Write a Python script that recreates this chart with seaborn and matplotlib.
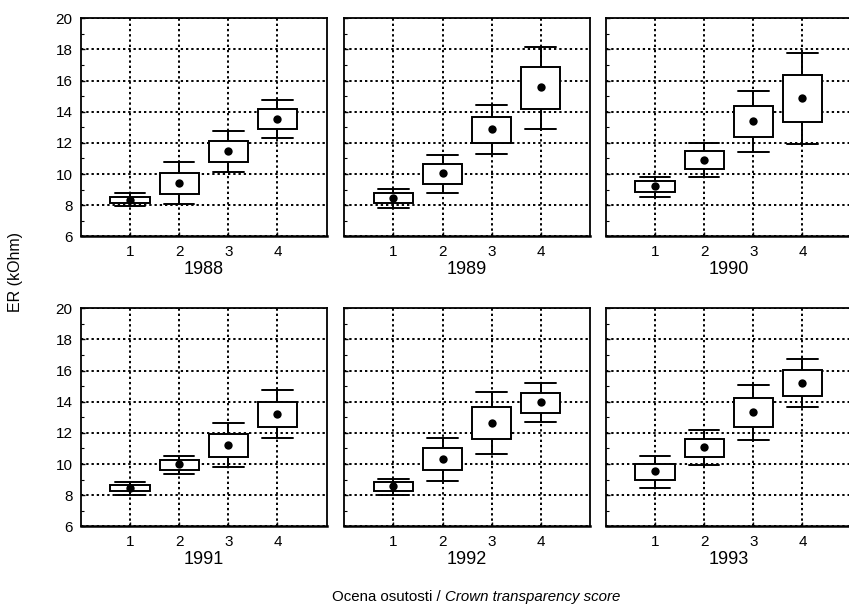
import numpy as np
import pandas as pd
import matplotlib
matplotlib.use("Agg")
import matplotlib.pyplot as plt
import seaborn as sns
from matplotlib.ticker import MultipleLocator

sns.set_theme(style="white")
plt.rcParams['font.family'] = ['Liberation Sans', 'DejaVu Sans']

years = ['1988', '1989', '1990', '1991', '1992', '1993']
scores = ['1', '2', '3', '4']

mean = [
    [8.36, 9.45, 11.49, 13.55],
    [8.49, 10.07, 12.90, 15.58],
    [9.24, 10.93, 13.40, 14.88],
    [8.46, 10.00, 11.24, 13.23],
    [8.57, 10.32, 12.65, 13.97],
    [9.53, 11.07, 13.31, 15.21],
]
box_lo = [
    [8.12, 8.72, 10.76, 12.92],
    [8.16, 9.39, 12.00, 14.17],
    [8.85, 10.35, 12.39, 13.35],
    [8.25, 9.61, 10.45, 12.39],
    [8.27, 9.61, 11.60, 13.29],
    [8.97, 10.45, 12.39, 14.40],
]
box_hi = [
    [8.55, 10.09, 12.11, 14.17],
    [8.77, 10.65, 13.67, 16.89],
    [9.54, 11.47, 14.36, 16.33],
    [8.65, 10.23, 11.94, 13.97],
    [8.84, 11.02, 13.65, 14.59],
    [10.02, 11.60, 14.21, 16.01],
]
whisker_lo = [
    [7.95, 8.08, 10.12, 12.32],
    [7.84, 8.79, 11.27, 12.88],
    [8.53, 9.84, 11.42, 11.92],
    [8.03, 9.36, 9.78, 11.64],
    [7.99, 8.93, 10.66, 12.67],
    [8.48, 9.93, 11.52, 13.65],
]
whisker_hi = [
    [8.79, 10.74, 12.77, 14.77],
    [9.02, 11.25, 14.43, 18.18],
    [9.82, 11.96, 15.35, 17.77],
    [8.84, 10.51, 12.65, 14.74],
    [9.06, 11.69, 14.64, 15.23],
    [10.49, 12.16, 15.06, 16.75],
]

# five box statistics per group -> seaborn boxplot (whis=inf) reproduces them exactly
rows = []
mrows = []
for yi, yr in enumerate(years):
    for si, sc in enumerate(scores):
        for v in (whisker_lo[yi][si], box_lo[yi][si], mean[yi][si],
                  box_hi[yi][si], whisker_hi[yi][si]):
            rows.append((yr, sc, v))
        mrows.append((yr, sc, mean[yi][si]))
df = pd.DataFrame(rows, columns=['year', 'score', 'ER'])
mdf = pd.DataFrame(mrows, columns=['year', 'score', 'ER'])

W, H = 849, 616
fig = plt.figure(figsize=(W / 100, H / 100), dpi=100)
lefts = [81, 344.3, 606]
tops = [18.3, 308.3]
aw, ah = 245.5, 218

for i, yr in enumerate(years):
    r, c = divmod(i, 3)
    ax = fig.add_axes([lefts[c] / W, 1 - (tops[r] + ah) / H, aw / W, ah / H])
    sub = df[df.year == yr]
    sns.boxplot(data=sub, x='score', y='ER', order=scores, whis=np.inf,
                width=0.8, color='white', linecolor='black', linewidth=1.4,
                saturation=1, showfliers=False,
                medianprops=dict(visible=False), ax=ax)
    # widen caps
    for ln in ax.lines:
        xd = np.asarray(ln.get_xdata(), dtype=float)
        yd = np.asarray(ln.get_ydata(), dtype=float)
        if len(xd) == 2 and yd[0] == yd[1] and xd[0] != xd[1]:
            cx = xd.mean()
            ln.set_xdata([cx - 0.31, cx + 0.31])
    sns.stripplot(data=mdf[mdf.year == yr], x='score', y='ER', order=scores,
                  jitter=False, color='black', size=6, ax=ax, zorder=5)

    ax.set_xlim(-1, 4)
    ax.set_ylim(6, 20)
    ax.yaxis.set_major_locator(MultipleLocator(2))
    ax.yaxis.set_minor_locator(MultipleLocator(1))
    ax.set_axisbelow(True)
    ax.grid(True, which='major', axis='both', color='black',
            linestyle=(0, (1.2, 1.5)), linewidth=1.4)
    ax.tick_params(axis='both', which='major', direction='in', length=3,
                   width=1, color='black', labelsize=11, labelcolor='black',
                   left=True, bottom=True, pad=6)
    ax.tick_params(axis='y', which='minor', direction='in', length=2,
                   width=0.8, color='black', left=True)
    if c > 0:
        ax.tick_params(axis='y', labelleft=False)
    ax.set_ylabel('')
    ax.set_xlabel(yr, fontsize=13, color='black', labelpad=2)
    for sp in ax.spines.values():
        sp.set_visible(True)
        sp.set_color('black')
        sp.set_linewidth(1.3)
    ax.spines['bottom'].set_linewidth(1.8)

fig.text(16 / W, 1 - 272 / H, 'ER (kOhm)', rotation=90, ha='center',
         va='center', fontsize=11.5, color='black')

fig.canvas.draw()
rend = fig.canvas.get_renderer()
y_lab = 1 - 597 / H
t1 = fig.text(0, y_lab, 'Ocena osutosti / ', ha='left', va='center',
              fontsize=10.8, color='black')
t2 = fig.text(0, y_lab, 'Crown transparency score', ha='left', va='center',
              fontsize=10.8, color='black', style='italic')
w1 = t1.get_window_extent(rend).width
w2 = t2.get_window_extent(rend).width
x0 = 476 - (w1 + w2) / 2
t1.set_x(x0 / W)
t2.set_x((x0 + w1) / W)

fig.savefig('out.png', dpi=100)
